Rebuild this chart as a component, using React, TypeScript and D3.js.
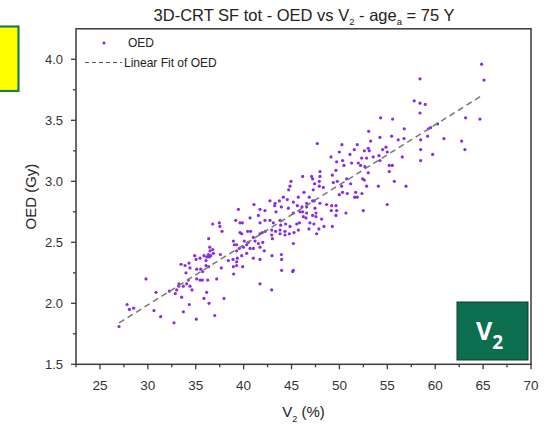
import React from "react";
import * as d3 from "d3";

// OED vs V2 scatter
const v2Values: number[] = [
  44.95,44.84,44.70,42.75,43.28,43.73,44.14,44.56,45.19,45.71,45.61,41.08,41.71,42.23,39.45,43.24,43.38,43.94,44.67,45.19,45.88,
  39.17,39.62,39.87,40.67,41.54,41.71,42.23,42.75,43.10,43.80,43.87,44.39,44.84,45.54,45.82,
  36.77,37.46,37.53,37.74,39.62,39.80,40.42,40.73,41.01,41.71,41.95,42.27,42.93,43.34,43.80,44.32,44.77,45.26,45.71,
  36.35,36.46,36.49,36.77,36.84,36.32,36.14,36.42,38.93,39.03,39.27,39.27,39.55,39.97,40.07,40.32,40.49,40.67,41.01,41.19,41.54,41.71,41.99,42.16,42.93,43.00,43.80,44.32,45.19,
  34.89,35.03,35.45,35.86,36.07,36.56,37.57,38.40,38.89,39.34,39.27,39.80,40.32,41.01,41.71,42.96,43.94,43.97,
  33.46,33.88,34.30,34.40,35.10,35.52,35.72,36.07,36.35,37.67,38.93,39.27,39.90,43.97,45.19,45.12,
  33.25,33.22,33.98,34.23,34.40,34.61,35.10,35.45,35.69,36.25,37.19,38.96,
  30.85,32.24,32.87,33.01,33.53,33.71,34.05,36.14,35.86,36.39,37.95,41.71,42.93,
  27.83,28.07,28.52,30.64,31.34,32.73,33.71,34.33,35.06,36.98,26.99,29.81,
  64.84,65.09,58.41,57.81,58.41,58.96,58.41,54.30,55.55,63.17,64.67,60.25,59.28,59.52,59.21,
  53.05,56.77,55.45,54.23,47.69,50.26,51.86,53.26,56.14,56.74,58.48,60.91,62.76,63.10,58.48,59.73,
  49.99,51.10,51.55,53.01,53.12,52.60,53.53,54.13,54.51,54.86,55.00,56.56,58.48,54.23,55.20,55.52,
  49.12,49.71,50.33,50.47,49.64,49.26,47.97,47.97,46.16,47.10,47.20,51.27,51.97,52.32,52.84,52.21,52.66,53.01,52.42,52.60,52.84,55.20,55.73,54.06,56.95,
  47.41,47.90,47.90,48.32,47.27,49.36,49.78,50.23,50.33,49.99,50.82,51.69,52.35,51.86,50.75,51.17,51.59,
  46.30,46.85,47.20,47.38,46.58,46.09,46.58,47.45,46.16,46.58,47.55,47.97,48.66,49.19,49.64,49.71,49.15,49.64,50.68,52.49,54.99,
  46.23,47.20,47.55,46.51,48.14,46.92,47.34,47.86,48.39,49.26,46.82,47.62,
];
const oedValues: number[] = [
  3.00,2.96,2.93,2.84,2.82,2.84,2.87,2.85,2.83,2.87,2.80,2.81,2.77,2.76,2.77,2.80,2.75,2.79,2.78,2.74,2.75,
  2.68,2.66,2.66,2.70,2.72,2.66,2.68,2.68,2.66,2.68,2.64,2.65,2.63,2.65,2.66,
  2.65,2.66,2.63,2.59,2.58,2.57,2.59,2.59,2.54,2.57,2.58,2.59,2.60,2.59,2.60,2.59,2.57,2.58,2.60,
  2.53,2.46,2.43,2.44,2.41,2.40,2.38,2.38,2.51,2.48,2.48,2.43,2.45,2.46,2.51,2.48,2.50,2.45,2.45,2.51,2.49,2.46,2.50,2.43,2.56,2.53,2.57,2.56,2.49,
  2.39,2.36,2.37,2.39,2.35,2.39,2.40,2.35,2.36,2.37,2.34,2.39,2.41,2.37,2.36,2.39,2.40,2.36,
  2.32,2.31,2.33,2.29,2.28,2.28,2.26,2.31,2.30,2.29,2.30,2.31,2.30,2.27,2.27,2.26,
  2.16,2.14,2.25,2.19,2.14,2.11,2.20,2.19,2.19,2.19,2.20,2.24,
  2.09,2.10,2.08,2.11,2.05,2.14,2.16,2.09,2.04,2.00,2.04,2.16,2.11,
  1.99,1.95,1.96,1.94,1.89,1.84,1.93,1.99,1.87,1.90,1.81,2.20,
  3.96,3.83,3.84,3.66,3.64,3.63,3.56,3.52,3.51,3.52,3.51,3.47,3.43,3.44,3.37,
  3.41,3.43,3.37,3.36,3.31,3.30,3.30,3.33,3.34,3.35,3.34,3.35,3.33,3.26,3.26,3.22,
  3.24,3.22,3.26,3.27,3.25,3.25,3.20,3.21,3.26,3.28,3.24,3.20,3.17,3.17,3.13,3.13,
  3.20,3.16,3.17,3.13,3.09,3.05,3.08,3.04,3.04,3.04,3.02,3.15,3.15,3.19,3.19,3.13,3.12,3.07,3.02,3.01,2.96,3.08,3.00,2.96,2.96,
  2.98,3.00,2.96,2.95,2.93,2.99,3.00,2.96,2.91,2.89,2.90,2.91,2.90,2.87,3.02,2.98,2.87,
  2.91,2.87,2.84,2.84,2.82,2.79,2.79,2.78,2.75,2.74,2.74,2.82,2.81,2.80,2.80,2.76,2.76,2.72,2.74,2.76,2.81,
  2.71,2.72,2.71,2.70,2.69,2.66,2.65,2.61,2.63,2.63,2.61,2.57,
];

// Linear fit of OED
const fitRange: number[] = [27, 65];
const fitSlope = 0.0492;
const fitIntercept = 0.511;

const xTicks: number[] = [25, 30, 35, 40, 45, 50, 55, 60, 65, 70];
const xMinorTicks: number[] = [22.5, 27.5, 32.5, 37.5, 42.5, 47.5, 52.5, 57.5, 62.5, 67.5];
const yTicks: number[] = [1.5, 2.0, 2.5, 3.0, 3.5, 4.0];
const yMinorTicks: number[] = [1.75, 2.25, 2.75, 3.25, 3.75];

const W = 549;
const H = 425;
const left = 76;
const right = 531;
const top = 28.8;
const bottom = 364.3;
const font = "'Liberation Sans', Arial, sans-serif";
const axisColor = "#3a3a3a";
const dotColor = "#8a2be2";

export default function App() {
  const x = d3.scaleLinear().domain([22.5, 70]).range([left, right]);
  const y = d3.scaleLinear().domain([1.5, 4.25]).range([bottom, top]);
  const pts = v2Values.map((v, i) => [v, oedValues[i]] as [number, number]);
  const fitLine = d3
    .line<number>()
    .x((d) => x(d))
    .y((d) => y(fitIntercept + fitSlope * d));

  return (
    <div style={{ position: "absolute", left: 0, top: 0 }}>
      <svg width={W} height={H} style={{ display: "block", background: "#fff" }} fontFamily={font}>
        {/* yellow box */}
        <rect x={-10} y={26.5} width={28.5} height={64.5} fill="#ffff00" stroke="#1d7a55" strokeWidth={2.2} />
        {/* title */}
        <text x={304} y={20.5} textAnchor="middle" fontSize={16.5} fill="#222">
          3D-CRT SF tot - OED vs V<tspan fontSize={9.5} dy={4.5}>2</tspan>
          <tspan dy={-4.5}> - age</tspan>
          <tspan fontSize={9.5} dy={4.5}>a</tspan>
          <tspan dy={-4.5}> = 75 Y</tspan>
        </text>
        {/* frame */}
        <rect x={left} y={top} width={right - left} height={bottom - top} fill="none" stroke={axisColor} strokeWidth={1.5} />
        {/* y ticks */}
        {yTicks.map((t) => (
          <g key={"yt" + t}>
            <line x1={left - 5} x2={left} y1={y(t)} y2={y(t)} stroke={axisColor} strokeWidth={1.3} />
            <text x={63} y={y(t) + 4.6} textAnchor="end" fontSize={13} fill="#333">
              {t.toFixed(1)}
            </text>
          </g>
        ))}
        {yMinorTicks.map((t) => (
          <line key={"ym" + t} x1={left - 3} x2={left} y1={y(t)} y2={y(t)} stroke={axisColor} strokeWidth={1.3} />
        ))}
        {/* x ticks */}
        {xTicks.map((t) => (
          <g key={"xt" + t}>
            <line x1={x(t)} x2={x(t)} y1={bottom} y2={bottom + 5} stroke={axisColor} strokeWidth={1.3} />
            <text x={x(t)} y={390} textAnchor="middle" fontSize={13.5} fill="#333">
              {t}
            </text>
          </g>
        ))}
        {xMinorTicks.map((t) => (
          <line key={"xm" + t} x1={x(t)} x2={x(t)} y1={bottom} y2={bottom + 3} stroke={axisColor} strokeWidth={1.3} />
        ))}
        {/* axis titles */}
        <text
          transform={`translate(36,${(top + bottom) / 2}) rotate(-90)`}
          textAnchor="middle"
          fontSize={15}
          fill="#222"
        >
          OED (Gy)
        </text>
        <text x={(left + right) / 2} y={417} textAnchor="middle" fontSize={15} fill="#222">
          V<tspan fontSize={9} dy={4.5}>2</tspan>
          <tspan dy={-4.5}> (%)</tspan>
        </text>
        {/* points */}
        {pts.map((p, i) => (
          <circle key={i} cx={x(p[0])} cy={y(p[1])} r={1.6} fill={dotColor} />
        ))}
        {/* fit line */}
        <path d={fitLine(fitRange) || ""} fill="none" stroke="#777" strokeWidth={1.5} strokeDasharray="6,4" />
        {/* legend */}
        <circle cx={104} cy={43} r={1.6} fill={dotColor} />
        <text x={128} y={47} fontSize={12} fill="#222">OED</text>
        <line x1={85} x2={122} y1={62.5} y2={62.5} stroke="#555" strokeWidth={1} strokeDasharray="4,3" />
        <text x={124} y={66.5} fontSize={12} fill="#222">Linear Fit of OED</text>
        {/* V2 badge */}
        <rect x={457} y={302} width={71} height={58} fill="#0b6e4f" stroke="#0a3d2c" strokeWidth={1} />
        <text x={476} y={340} fontSize={25} fontWeight="bold" fill="#fff" fontFamily="'Open Sans', sans-serif">
          V<tspan fontSize={19} dy={9}>2</tspan>
        </text>
      </svg>
    </div>
  );
}
